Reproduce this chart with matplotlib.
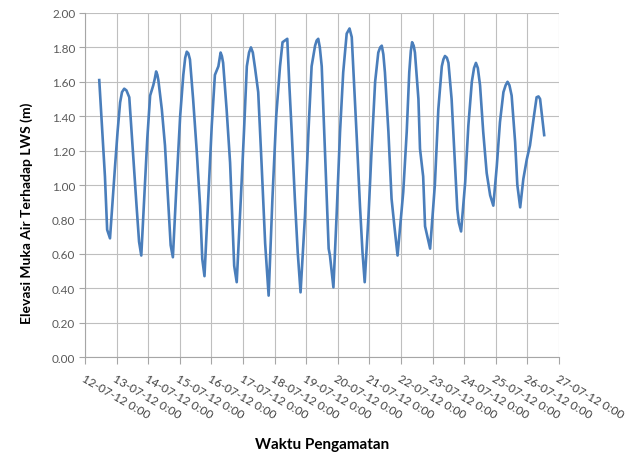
import matplotlib
matplotlib.use("Agg")
import matplotlib.pyplot as plt

# waktu dalam hari sejak 12-07-12 0:00, elevasi dalam meter
hari = [0.45, 0.63, 0.70, 0.79, 0.95, 1.03, 1.11, 1.17, 1.24, 1.31, 1.40, 1.53, 1.63, 1.71, 1.78,
        1.90, 1.97, 2.06, 2.16, 2.21, 2.25, 2.29, 2.32, 2.43, 2.53, 2.64, 2.71, 2.78,
        2.90, 3.01, 3.11, 3.17, 3.22, 3.27, 3.32, 3.42, 3.53, 3.64, 3.71, 3.78,
        3.90, 4.01, 4.11, 4.22, 4.29, 4.33, 4.37, 4.48, 4.59, 4.67, 4.72, 4.80,
        4.93, 5.03, 5.12, 5.19, 5.25, 5.31, 5.38, 5.48, 5.59, 5.70, 5.81,
        5.93, 6.05, 6.17, 6.25, 6.40, 6.46, 6.54, 6.64, 6.73, 6.82,
        6.96, 7.07, 7.17, 7.28, 7.33, 7.38, 7.43, 7.49, 7.57, 7.65, 7.71, 7.75, 7.86,
        7.96, 8.07, 8.17, 8.28, 8.37, 8.44, 8.51, 8.60, 8.70, 8.78, 8.85,
        8.97, 9.07, 9.18, 9.28, 9.34, 9.39, 9.44, 9.49, 9.60, 9.70, 9.79, 9.89,
        10.00, 10.07, 10.18, 10.26, 10.31, 10.35, 10.40, 10.44, 10.55, 10.60, 10.70, 10.76, 10.92,
        11.07, 11.18, 11.29, 11.34, 11.39, 11.45, 11.50, 11.60, 11.71, 11.78, 11.83, 11.90,
        12.03, 12.13, 12.24, 12.31, 12.37, 12.43, 12.50, 12.60, 12.71, 12.82, 12.92,
        13.03, 13.13, 13.24, 13.31, 13.37, 13.43, 13.50, 13.61, 13.68, 13.77,
        13.87, 13.98, 14.08, 14.19, 14.29, 14.35, 14.40, 14.53]
elevasi = [1.61, 1.05, 0.74, 0.69, 1.11, 1.31, 1.48, 1.54, 1.56, 1.55, 1.51, 1.15, 0.88, 0.67, 0.59,
           1.02, 1.27, 1.52, 1.58, 1.62, 1.66, 1.64, 1.61, 1.44, 1.23, 0.88, 0.65, 0.58,
           1.02, 1.40, 1.64, 1.74, 1.775, 1.765, 1.73, 1.50, 1.21, 0.88, 0.57, 0.47,
           0.92, 1.345, 1.64, 1.69, 1.77, 1.75, 1.71, 1.44, 1.13, 0.76, 0.53, 0.435,
           0.92, 1.31, 1.69, 1.77, 1.80, 1.77, 1.68, 1.54, 1.11, 0.66, 0.357,
           0.92, 1.40, 1.69, 1.83, 1.85, 1.60, 1.31, 0.92, 0.61, 0.376,
           0.82, 1.31, 1.69, 1.81, 1.84, 1.85, 1.80, 1.69, 1.31, 0.92, 0.63, 0.59, 0.405,
           0.82, 1.31, 1.655, 1.88, 1.91, 1.86, 1.60, 1.27, 0.88, 0.61, 0.435,
           0.82, 1.21, 1.60, 1.77, 1.80, 1.81, 1.76, 1.655, 1.31, 0.92, 0.76, 0.59,
           0.82, 0.96, 1.31, 1.655, 1.78, 1.83, 1.81, 1.77, 1.50, 1.21, 1.05, 0.76, 0.63,
           1.00, 1.44, 1.69, 1.73, 1.75, 1.74, 1.71, 1.50, 1.11, 0.86, 0.78, 0.73,
           1.016, 1.345, 1.60, 1.68, 1.71, 1.68, 1.58, 1.31, 1.07, 0.94, 0.88,
           1.11, 1.365, 1.54, 1.58, 1.60, 1.58, 1.52, 1.25, 1.00, 0.87,
           1.035, 1.15, 1.23, 1.38, 1.51, 1.515, 1.50, 1.29]

label_tanggal = ["%02d-07-12 0:00" % d for d in range(12, 28)]
label_y = ["%.2f" % (i * 0.2) for i in range(11)]

plt.rcParams['font.family'] = ['Lato', 'DejaVu Sans']

fig = plt.figure(figsize=(6.28, 4.56), dpi=100)
ax = fig.add_axes([0.1354, 0.2149, 0.7548, 0.7544])

ax.plot(hari, elevasi, color='#4A7EBB', linewidth=1.9, solid_joinstyle='round')

ax.set_xlim(0, 15)
ax.set_ylim(0, 2.0)
ax.set_xticks(range(16))
ax.set_xticklabels(label_tanggal, rotation=-30, ha='left', va='top',
                   rotation_mode='anchor', fontsize=8.5, color='#404040')
ax.set_yticks([i * 0.2 for i in range(11)])
ax.set_yticklabels(label_y, fontsize=8.5, color='#595959')

ax.grid(True, color='#BFBFBF', linewidth=0.8)
ax.set_axisbelow(True)
for s in ['top', 'right']:
    ax.spines[s].set_visible(False)
for s in ['left', 'bottom']:
    ax.spines[s].set_color('#A6A6A6')
ax.tick_params(axis='x', length=5, color='#A6A6A6', pad=6)
ax.tick_params(axis='y', length=4, color='#A6A6A6', pad=3)

ax.set_ylabel('Elevasi Muka Air Terhadap LWS (m)', fontsize=10, fontweight='bold')
ax.yaxis.set_label_coords(-0.11, 0.42)
fig.text(0.513, 0.025, 'Waktu Pengamatan', fontsize=11, fontweight='bold',
         ha='center', va='center')

fig.savefig('out.png', dpi=100)
